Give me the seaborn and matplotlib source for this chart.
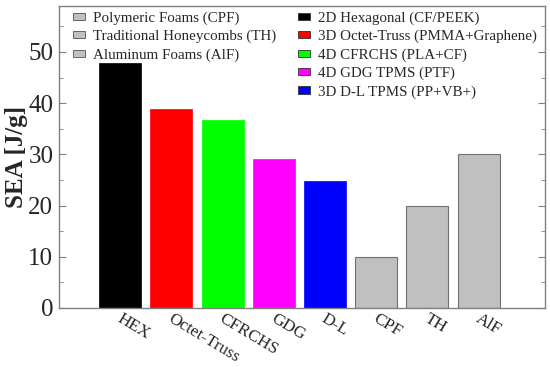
import matplotlib
matplotlib.use('Agg')
import matplotlib.pyplot as plt
import matplotlib.transforms as mtransforms
from matplotlib.patches import Patch
from matplotlib.ticker import MultipleLocator
import seaborn as sns

# --- DATOS ---
categorias = ['HEX', 'Octet-Truss', 'CFRCHS', 'GDG', 'D-L', 'CPF', 'TH', 'AlF']
sea = [47.9, 38.9, 36.8, 29.0, 24.8, 10.0, 20.0, 30.0]
colores = ['#000000', '#ff0000', '#00ff00', '#ff00ff', '#0000ff', '#c0c0c0', '#c0c0c0', '#c0c0c0']
leyenda_gris = ['Polymeric Foams (CPF)', 'Traditional Honeycombs (TH)', 'Aluminum Foams (AlF)']
leyenda_color = ['2D Hexagonal (CF/PEEK)', '3D Octet-Truss (PMMA+Graphene)',
                 '4D CFRCHS (PLA+CF)', '4D GDG TPMS (PTF)', '3D D-L TPMS (PP+VB+)']
colores_leyenda = colores[:5]

# --- ESTILO ---
sns.set_style("ticks")
plt.rcParams['font.family'] = ['Liberation Serif', 'DejaVu Serif']

fig = plt.figure(figsize=(5.5, 3.67), dpi=100)
ax = fig.add_axes([0.107, 0.161, 0.884, 0.823])

sns.barplot(x=categorias, y=sea, hue=categorias, palette=colores, width=0.82,
            saturation=1, legend=False, ax=ax)
for patch, c in zip(ax.patches, colores):
    if c == '#c0c0c0':
        patch.set_edgecolor('#707070')
        patch.set_linewidth(0.8)
    else:
        patch.set_edgecolor(c)
        patch.set_linewidth(0.5)

ax.set_xlim(-1.2, 8.3)
ax.set_ylim(0, 59)
ax.yaxis.set_major_locator(MultipleLocator(10))
ax.yaxis.set_minor_locator(MultipleLocator(5))
ax.tick_params(axis='y', which='both', direction='in', left=True, right=True,
               labelsize=18, color='#808080', pad=4)
ax.tick_params(axis='y', which='major', length=5)
ax.tick_params(axis='y', which='minor', length=3)
ax.tick_params(axis='x', length=0, labelsize=12.3, pad=2)
for sp in ax.spines.values():
    sp.set_color('#808080')
    sp.set_linewidth(1.0)

ax.set_ylabel('SEA [J/g]', fontsize=18, fontweight='bold', labelpad=0)
ax.set_xlabel('')

offset = mtransforms.ScaledTranslation(-6 / 100, 0, fig.dpi_scale_trans)
for lab in ax.get_xticklabels():
    lab.set_rotation(-31)
    lab.set_ha('left')
    lab.set_va('top')
    lab.set_transform(lab.get_transform() + offset)

# --- LEYENDAS ---
h_gris = [Patch(facecolor='#c0c0c0', edgecolor='#505050', linewidth=0.6) for _ in leyenda_gris]
h_color = [Patch(facecolor=c, edgecolor='#303030', linewidth=0.6) for c in colores_leyenda]
estilo_leg = dict(loc='upper left', frameon=False, fontsize=10.8, handlelength=0.8,
                  handleheight=0.35, handletextpad=0.55, labelspacing=0.33,
                  borderaxespad=0, borderpad=0)
leg1 = ax.legend(h_gris, leyenda_gris, bbox_to_anchor=(0.029, 0.982), **estilo_leg)
ax.add_artist(leg1)
ax.legend(h_color, leyenda_color, bbox_to_anchor=(0.492, 0.982), **estilo_leg)

plt.savefig('out.png', dpi=100)
plt.close()
